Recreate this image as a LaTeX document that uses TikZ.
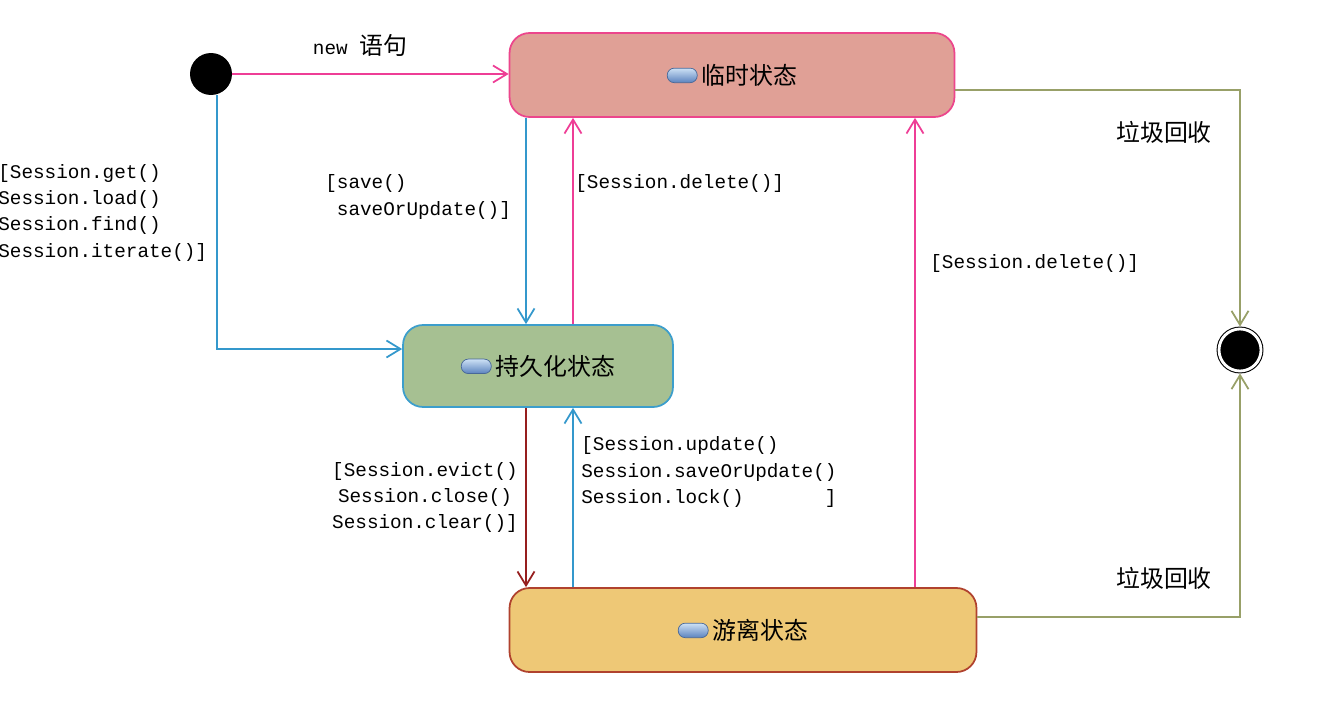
\documentclass[tikz,border=0pt]{standalone}
\usepackage{fontspec}
\setmonofont{Liberation Mono}
\newfontfamily\cjk{Noto Sans CJK SC}
\definecolor{tmpfill}{RGB}{224,160,150}
\definecolor{tmpedge}{RGB}{236,70,140}
\definecolor{perfill}{RGB}{166,192,146}
\definecolor{peredge}{RGB}{60,158,204}
\definecolor{detfill}{RGB}{238,200,118}
\definecolor{detedge}{RGB}{176,66,46}
\definecolor{pinkline}{RGB}{238,62,150}
\definecolor{blueline}{RGB}{52,152,204}
\definecolor{redline}{RGB}{150,30,30}
\definecolor{oliveline}{RGB}{152,160,104}
\definecolor{icontop}{RGB}{205,225,245}
\definecolor{iconbot}{RGB}{90,130,190}
\usetikzlibrary{arrows.meta,positioning,calc}

\newcommand{\stateicon}{\tikz[baseline=0pt]\shade[top color=icontop,bottom color=iconbot,
  draw=iconbot!80!black,line width=0.4pt,rounded corners=1.4mm] (0,0.03cm) rectangle (0.6cm,0.32cm);}

\begin{document}
\begin{tikzpicture}[x=0.02cm,y=-0.02cm,
  state/.style={draw,line width=1pt,rounded corners=0.4cm,minimum height=1.68cm,
        inner sep=0pt,font=\cjk\fontsize{13.6}{16}\selectfont},
  tran/.style={line width=1pt,-{Straight Barb[length=2.8mm,width=3.4mm]}},
  guard/.style={inner sep=0pt,font=\ttfamily\fontsize{11}{14.8}\selectfont},
  gclabel/.style={inner sep=0pt,font=\cjk\fontsize{13.6}{16}\selectfont}]
  \useasboundingbox (0,0) rectangle (1318,723);

  %% states
  \node[circle,fill=black,minimum size=0.84cm,inner sep=0pt] (init) at (211,74) {};
  \node[state,fill=tmpfill,draw=tmpedge,minimum width=8.9cm] (tmp) at (732,75)
        {\stateicon\,临时状态};
  \node[state,fill=perfill,draw=peredge,minimum width=5.4cm,minimum height=1.64cm] (per) at (538,366)
        {\stateicon\,持久化状态};
  \node[state,fill=detfill,draw=detedge,minimum width=9.34cm] (det) at (743,630)
        {\stateicon\,游离状态};
  \node[circle,fill=black,draw=black,double=white,double distance=1.6pt,line width=0.6pt,
        minimum size=0.84cm,inner sep=0pt,outer sep=1.4pt] (fin) at (1240,350) {};

  %% columns for the vertical transitions
  \coordinate (c1) at (526,0);
  \coordinate (c2) at (573,0);
  \coordinate (c4) at (915,0);

  %% transitions
  \draw[tran,pinkline] (init) -- (init -| tmp.west);
  \draw[tran,blueline] ([xshift=0.12cm]init.south) |- ([yshift=0.34cm]per.west);
  \draw[tran,blueline] (tmp.south -| c1) -- (per.north -| c1);
  \draw[tran,pinkline] (per.north -| c2) -- (tmp.south -| c2);
  \draw[tran,redline] (per.south -| c1) -- (det.north -| c1);
  \draw[tran,blueline] (det.north -| c2) -- (per.south -| c2);
  \draw[tran,pinkline] (det.north -| c4) -- (tmp.south -| c4);
  \draw[tran,oliveline] ([yshift=-0.3cm]tmp.east) -| (fin.north);
  \draw[tran,oliveline] ([yshift=0.26cm]det.east) -| (fin.south);

  %% guards
  \node[inner sep=0pt] (newlbl) at (360,45) {\ttfamily\fontsize{11}{14}\selectfont new \cjk\fontsize{13.6}{16}\selectfont 语句};
  \node[guard,anchor=west,align=left] (getlbl) at (-2,213)
        {[Session.get()\\Session.load()\\Session.find()\\Session.iterate()]};
  \node[guard,anchor=west,align=left] (savelbl) at (325,197)
        {[save()\\\phantom{[}saveOrUpdate()]};
  \node[guard,anchor=west] (del1lbl) at (575,184) {[Session.delete()]};
  \node[guard,anchor=west] (del2lbl) at (930,264) {[Session.delete()]};
  \node[guard,align=center] (evictlbl) at (425,497)
        {[Session.evict()\\Session.close()\\Session.clear()]};
  \node[guard,anchor=west,align=left] (updlbl) at (581,472)
        {[Session.update()\\Session.saveOrUpdate()\\Session.lock()\phantom{0000000}]};
  \node[gclabel] (gc1lbl) at (1164,132) {垃圾回收};
  \node[gclabel] (gc2lbl) at (1164,578) {垃圾回收};
\end{tikzpicture}
\end{document}
